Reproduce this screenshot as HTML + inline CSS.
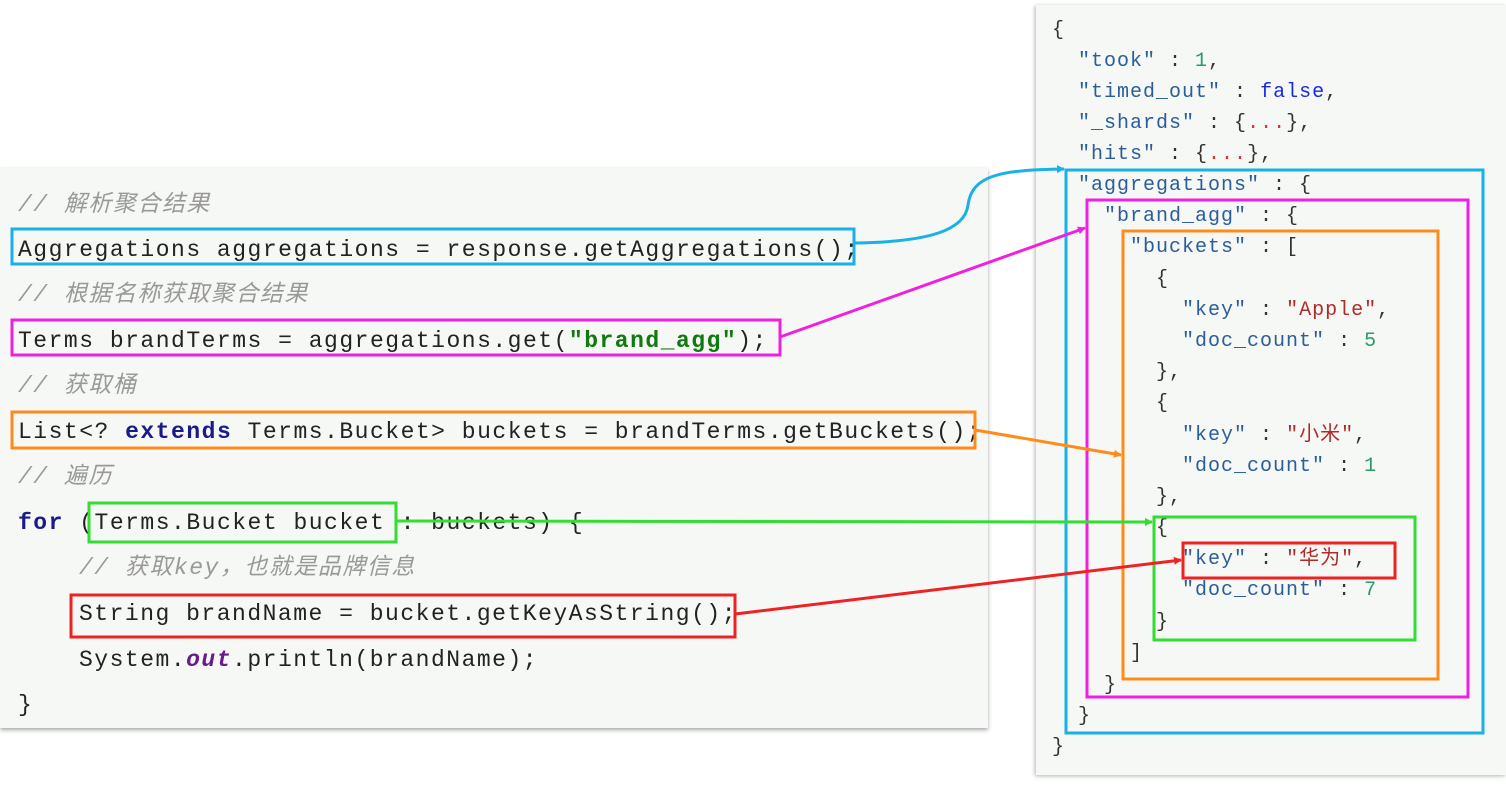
<!DOCTYPE html>
<html><head><meta charset="utf-8"><style>
body{margin:0;width:1506px;height:788px;background:#fff;position:relative;overflow:hidden;font-family:"Liberation Mono","Noto Sans CJK SC",monospace}
.lp{position:absolute;left:0;top:168px;width:988px;height:560px;background:#f6f8f5;box-shadow:0 2px 4px rgba(0,0,0,.35)}
.rp{position:absolute;left:1036px;top:5px;width:470px;height:770px;background:#f6f8f5;box-shadow:-1px 1px 4px rgba(0,0,0,.3)}
.c{position:absolute;height:30px;line-height:30px;font-size:23px;letter-spacing:1.5px;color:#222;white-space:pre}
.cm{color:#999;font-style:italic}
.kw{color:#1a1a8c;font-weight:bold}
.st{color:#107a10;font-weight:bold}
.j{position:absolute;height:30px;line-height:30px;font-size:20px;letter-spacing:1px;color:#333;white-space:pre}
.k{color:#2a5d9a}.n{color:#2a9a6a}.f{color:#1a2ae0}.s{color:#b02a2a}.d{color:#e03030}
svg{position:absolute;left:0;top:0}
</style></head><body>
<div class="lp"></div>
<div class="rp"></div>

<div class="c cm" style="left:18px;top:190px">// 解析聚合结果</div>
<div class="c" style="left:18px;top:235px">Aggregations aggregations = response.getAggregations();</div>
<div class="c cm" style="left:18px;top:280px">// 根据名称获取聚合结果</div>
<div class="c" style="left:18px;top:326px">Terms brandTerms = aggregations.get(<span class="st">"brand_agg"</span>);</div>
<div class="c cm" style="left:18px;top:371px">// 获取桶</div>
<div class="c" style="left:18px;top:417px">List&lt;? <span class="kw">extends</span> Terms.Bucket&gt; buckets = brandTerms.getBuckets();</div>
<div class="c cm" style="left:18px;top:462px">// 遍历</div>
<div class="c" style="left:18px;top:508px"><span class="kw">for</span> (Terms.Bucket bucket : buckets) {</div>
<div class="c cm" style="left:79px;top:553px">// 获取key，也就是品牌信息</div>
<div class="c" style="left:79px;top:599px">String brandName = bucket.getKeyAsString();</div>
<div class="c" style="left:79px;top:645px">System.<span style="color:#6a1a8a;font-weight:bold;font-style:italic">out</span>.println(brandName);</div>
<div class="c" style="left:18px;top:690px">}</div>

<div class="j" style="left:1052px;top:16px">{</div>
<div class="j" style="left:1052px;top:47px">  <span class="k">"took"</span> : <span class="n">1</span>,</div>
<div class="j" style="left:1052px;top:78px">  <span class="k">"timed_out"</span> : <span class="f">false</span>,</div>
<div class="j" style="left:1052px;top:109px">  <span class="k">"_shards"</span> : {<span class="d">...</span>},</div>
<div class="j" style="left:1052px;top:140px">  <span class="k">"hits"</span> : {<span class="d">...</span>},</div>
<div class="j" style="left:1052px;top:171px">  <span class="k">"aggregations"</span> : {</div>
<div class="j" style="left:1052px;top:202px">    <span class="k">"brand_agg"</span> : {</div>
<div class="j" style="left:1052px;top:233px">      <span class="k">"buckets"</span> : [</div>
<div class="j" style="left:1052px;top:265px">        {</div>
<div class="j" style="left:1052px;top:296px">          <span class="k">"key"</span> : <span class="s">"Apple"</span>,</div>
<div class="j" style="left:1052px;top:327px">          <span class="k">"doc_count"</span> : <span class="n">5</span></div>
<div class="j" style="left:1052px;top:358px">        },</div>
<div class="j" style="left:1052px;top:389px">        {</div>
<div class="j" style="left:1052px;top:421px">          <span class="k">"key"</span> : <span class="s">"小米"</span>,</div>
<div class="j" style="left:1052px;top:452px">          <span class="k">"doc_count"</span> : <span class="n">1</span></div>
<div class="j" style="left:1052px;top:483px">        },</div>
<div class="j" style="left:1052px;top:514px">        {</div>
<div class="j" style="left:1052px;top:545px">          <span class="k">"key"</span> : <span class="s">"华为"</span>,</div>
<div class="j" style="left:1052px;top:576px">          <span class="k">"doc_count"</span> : <span class="n">7</span></div>
<div class="j" style="left:1052px;top:608px">        }</div>
<div class="j" style="left:1052px;top:639px">      ]</div>
<div class="j" style="left:1052px;top:671px">    }</div>
<div class="j" style="left:1052px;top:702px">  }</div>
<div class="j" style="left:1052px;top:733px">}</div>

<svg width="1506" height="788" viewBox="0 0 1506 788" fill="none" stroke-width="3">
<defs>
<marker id="mb" markerWidth="8" markerHeight="8" refX="7" refY="4" orient="auto" markerUnits="userSpaceOnUse"><path d="M0,0L8,4L0,8z" fill="#1ab0e8"/></marker>
<marker id="mm" markerWidth="8" markerHeight="8" refX="7" refY="4" orient="auto" markerUnits="userSpaceOnUse"><path d="M0,0L8,4L0,8z" fill="#f020e0"/></marker>
<marker id="mo" markerWidth="8" markerHeight="8" refX="7" refY="4" orient="auto" markerUnits="userSpaceOnUse"><path d="M0,0L8,4L0,8z" fill="#ff8c1a"/></marker>
<marker id="mg" markerWidth="8" markerHeight="8" refX="7" refY="4" orient="auto" markerUnits="userSpaceOnUse"><path d="M0,0L8,4L0,8z" fill="#33dd33"/></marker>
<marker id="mr" markerWidth="8" markerHeight="8" refX="7" refY="4" orient="auto" markerUnits="userSpaceOnUse"><path d="M0,0L8,4L0,8z" fill="#ee2222"/></marker>
</defs>
<rect x="12" y="229" width="842" height="35" stroke="#1ab0e8"/>
<rect x="12" y="320" width="768" height="35" stroke="#f020e0"/>
<rect x="12" y="412" width="963" height="36" stroke="#ff8c1a"/>
<rect x="89" y="503" width="307" height="39" stroke="#33dd33"/>
<rect x="71" y="595" width="664" height="42" stroke="#ee2222"/>
<rect x="1066" y="170" width="417" height="563" stroke="#1ab0e8"/>
<rect x="1087" y="200" width="381" height="497" stroke="#f020e0"/>
<rect x="1123" y="231" width="315" height="448" stroke="#ff8c1a"/>
<rect x="1154" y="517" width="261" height="123" stroke="#33dd33"/>
<rect x="1183" y="543" width="212" height="35" stroke="#ee2222"/>
<path d="M854,243 C930,242 965,230 968,205 C972,175 1000,170 1064,169" stroke="#1ab0e8" marker-end="url(#mb)"/>
<path d="M780,337 L1085,228" stroke="#f020e0" marker-end="url(#mm)"/>
<path d="M975,430 L1121,455" stroke="#ff8c1a" marker-end="url(#mo)"/>
<path d="M396,521 L1152,522" stroke="#33dd33" marker-end="url(#mg)"/>
<path d="M735,614 L1181,560" stroke="#ee2222" marker-end="url(#mr)"/>
</svg>
</body></html>
